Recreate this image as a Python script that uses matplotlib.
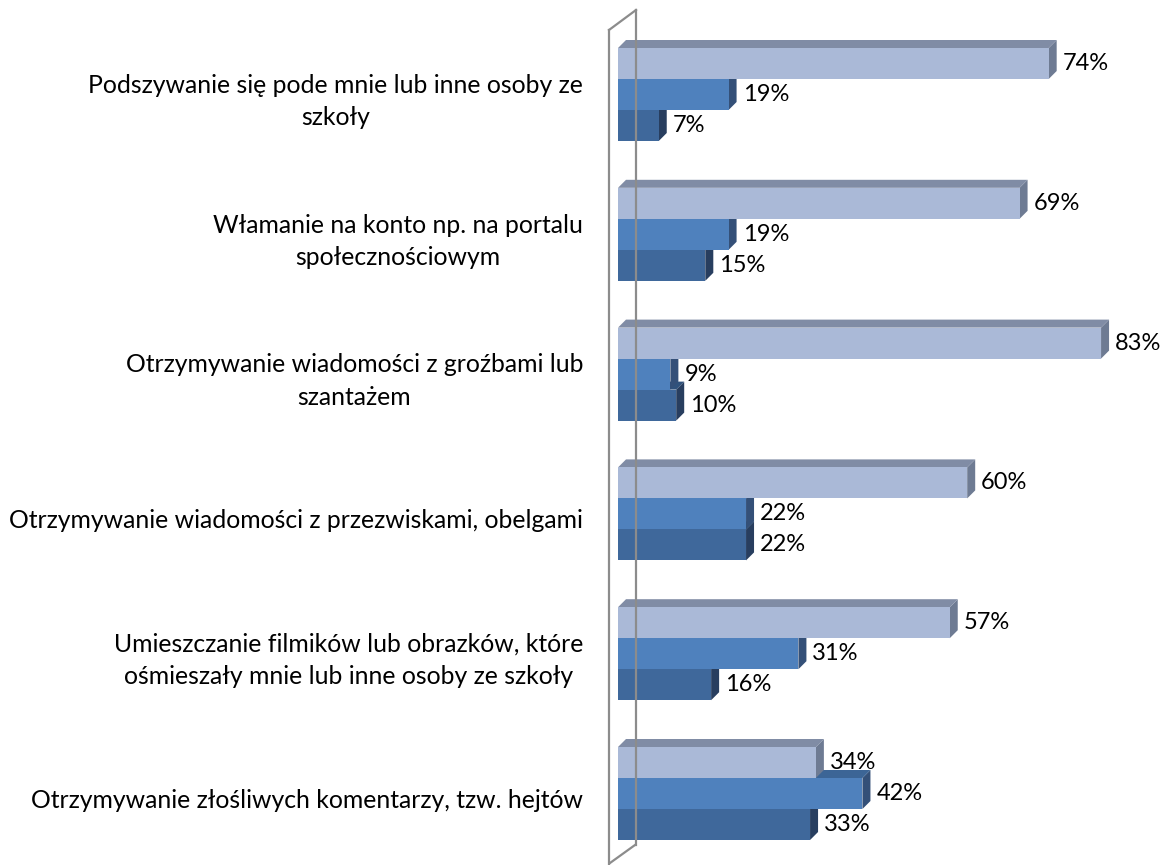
import matplotlib
matplotlib.use('Agg')
import matplotlib.pyplot as plt
from matplotlib.patches import Polygon, Rectangle
from matplotlib.lines import Line2D

plt.rcParams['font.family'] = ['Lato', 'DejaVu Sans']

# dane
categories = [
    'Podszywanie się pode mnie lub inne osoby ze\nszkoły',
    'Włamanie na konto np. na portalu\nspołecznościowym',
    'Otrzymywanie wiadomości z groźbami lub\nszantażem',
    'Otrzymywanie wiadomości z przezwiskami, obelgami',
    'Umieszczanie filmików lub obrazków, które\nośmieszały mnie lub inne osoby ze szkoły',
    'Otrzymywanie złośliwych komentarzy, tzw. hejtów',
]
series_a = [74, 69, 83, 60, 57, 34]   # jasny
series_b = [19, 19, 9, 22, 31, 42]    # średni
series_c = [7, 15, 10, 22, 16, 33]    # ciemny

# kolory: front, góra, bok
col_a = ('#aab9d7', '#808ca5', '#6e7b93')
col_b = ('#4f81bd', '#3c6596', '#345078')
col_c = ('#3f689b', '#30527c', '#283e5f')

W, H = 1168, 865
fig = plt.figure(figsize=(W / 100, H / 100), dpi=100)

x0_px = 618      # poczatek osi X
ppu = 5.82       # px na 1%
y0_px = 94.5     # srodek pierwszej grupy
gap_px = 139.8   # odstep grup
ax_left = 600

ax = fig.add_axes([ax_left / W, 0, (W - ax_left) / W, 1])
ax.set_xlim((ax_left - x0_px) / ppu, (W - x0_px) / ppu)
ax.set_ylim((H - y0_px) / gap_px, -y0_px / gap_px)
ax.axis('off')

h = 31 / gap_px
dx = 8 / ppu
dy = 8 / gap_px


def bar3d(v, c, cols):
    top = c - h / 2
    bot = c + h / 2
    ax.add_patch(Polygon([(v, top), (v + dx, top - dy), (v + dx, bot - dy), (v, bot)],
                         closed=True, fc=cols[2], ec='none'))
    ax.add_patch(Polygon([(0, top), (v, top), (v + dx, top - dy), (dx, top - dy)],
                         closed=True, fc=cols[1], ec='none'))
    ax.add_patch(Rectangle((0, top), v, h, fc=cols[0], ec='none'))


def label(v, c):
    ax.text(v + 14 / ppu, c, '%d%%' % v, ha='left', va='center', fontsize=17, color='black')


# sciana
def px(x, y):
    return ((x - x0_px) / ppu, (y - y0_px) / gap_px)


wall = [px(609, 30), px(609, 865), None, px(636, 10), px(636, 845),
        None, px(609, 30), px(636, 10), None, px(610, 863), px(635, 845)]
seg = []
for p in wall + [None]:
    if p is None:
        if seg:
            xs, ys = zip(*seg)
            ax.add_line(Line2D(xs, ys, color='#8c8c8c', lw=1.6, clip_on=False))
        seg = []
    else:
        seg.append(p)

for i in range(len(categories)):
    bar3d(series_c[i], i + h, col_c)
    bar3d(series_b[i], i, col_b)
    bar3d(series_a[i], i - h, col_a)
    label(series_a[i], i - h)
    label(series_b[i], i)
    label(series_c[i], i + h)
    fig.text(583 / W, 1 - (y0_px + 7 + gap_px * i) / H, categories[i], ha='right', va='center',
             multialignment='center', fontsize=17.8, linespacing=1.5)

fig.savefig('out.png', dpi=100)
